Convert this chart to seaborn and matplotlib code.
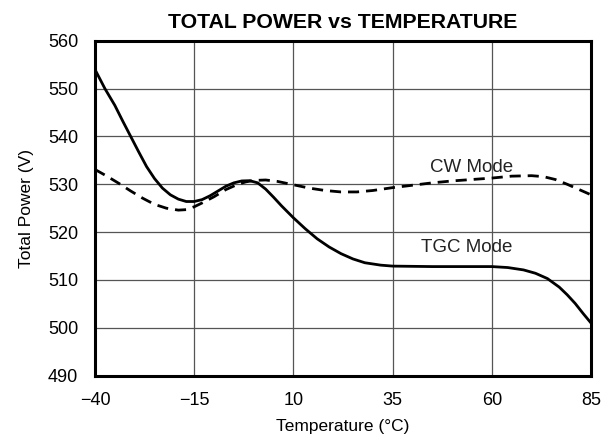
import matplotlib
matplotlib.use("Agg")
import matplotlib.pyplot as plt
import seaborn as sns
import pandas as pd

# TGC Mode (linha cheia)
tgc_temp = [-40, -37.5, -35, -33, -31, -29, -27, -25, -23, -21, -19, -17, -15, -13,
            -11, -9, -7, -5, -3, -1, 1, 3, 5, 7, 10, 13, 16, 19, 22, 25, 28, 32,
            35, 45, 55, 60, 64, 68, 71, 74, 77, 79, 81, 83, 85]
tgc_power = [554.0, 550.0, 546.5, 543.2, 540.0, 536.8, 533.7, 531.2, 529.2, 527.8,
             526.9, 526.4, 526.4, 526.8, 527.6, 528.6, 529.6, 530.3, 530.7, 530.75,
             530.3, 529.0, 527.3, 525.5, 523.0, 520.7, 518.6, 516.9, 515.5, 514.4,
             513.6, 513.1, 512.9, 512.8, 512.8, 512.8, 512.6, 512.1, 511.4, 510.3,
             508.5, 506.9, 505.1, 503.0, 501.0]

# CW Mode (linha tracejada)
cw_temp = [-40, -37, -34, -31, -28, -25, -22, -19, -17, -15, -13, -10, -7, -4,
           -2, 0, 3, 6, 10, 14, 18, 22, 26, 30, 35, 40, 45, 50, 55, 60, 65, 70,
           73, 76, 79, 82, 85]
cw_power = [533.1, 531.7, 530.2, 528.6, 527.1, 525.8, 525.0, 524.6, 524.7, 525.3,
            526.1, 527.4, 528.9, 530.0, 530.5, 530.8, 530.9, 530.6, 529.9, 529.2,
            528.7, 528.4, 528.4, 528.7, 529.3, 529.8, 530.3, 530.7, 531.0, 531.3,
            531.7, 531.8, 531.6, 531.0, 530.0, 528.9, 527.8]

x_ticks = [-40, -15, 10, 35, 60, 85]
x_labels = ["\u221240", "\u221215", "10", "35", "60", "85"]
y_ticks = [490, 500, 510, 520, 530, 540, 550, 560]

df_tgc = pd.DataFrame({"temp": tgc_temp, "power": tgc_power})
df_cw = pd.DataFrame({"temp": cw_temp, "power": cw_power})

sns.set_theme(style="white")
plt.rcParams['font.family'] = ['Liberation Sans', 'DejaVu Sans']
plt.rcParams['text.color'] = 'black'
plt.rcParams['xtick.color'] = 'black'
plt.rcParams['ytick.color'] = 'black'
plt.rcParams['axes.labelcolor'] = 'black'

fig = plt.figure(figsize=(6.1, 4.43), dpi=100)
ax = fig.add_axes([0.1557, 0.152, 0.8132, 0.756])

sns.lineplot(data=df_tgc, x="temp", y="power", ax=ax, color="black", linewidth=2)
sns.lineplot(data=df_cw, x="temp", y="power", ax=ax, color="black", linewidth=2,
             linestyle=(0, (4, 2.5)))

ax.set_xlim(-40, 85)
ax.set_ylim(490, 560)
ax.set_xticks(x_ticks)
ax.set_xticklabels(x_labels)
ax.set_yticks(y_ticks)
ax.tick_params(axis="both", labelsize=13, length=0)
ax.tick_params(axis="x", pad=12)
ax.tick_params(axis="y", pad=12)
ax.grid(True, color="#555555", linewidth=0.9)
for s in ax.spines.values():
    s.set_color("black")
    s.set_linewidth(2.2)

ax.set_xlabel("Temperature (\u00b0C)", fontsize=12.5, labelpad=7)
ax.set_ylabel("Total Power (V)", fontsize=12.5, labelpad=10)
ax.set_title("TOTAL POWER vs TEMPERATURE", fontsize=15.3, fontweight="bold", pad=9)

ax.text(55, 533.6, "CW Mode", fontsize=13.5, ha="center", va="center", color="#222222")
ax.text(53.6, 516.7, "TGC Mode", fontsize=13.5, ha="center", va="center", color="#222222")

fig.savefig("out.png", dpi=100)
